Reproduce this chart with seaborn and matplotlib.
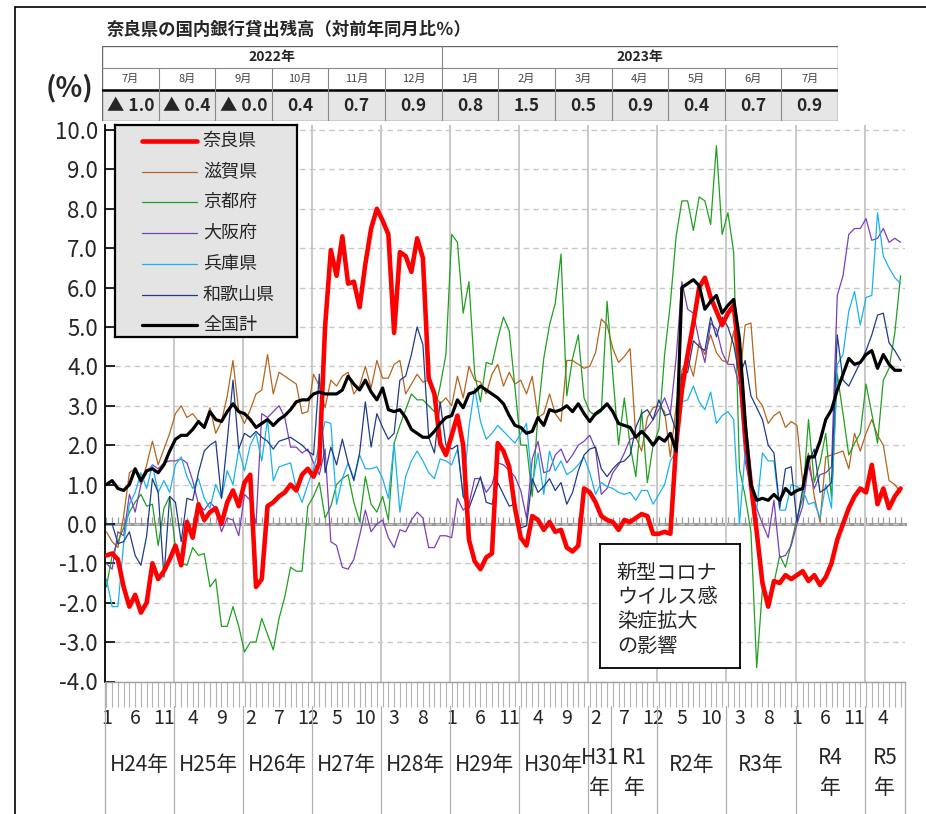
import math
import numpy as np
import pandas as pd
import matplotlib
matplotlib.use("Agg")
import matplotlib.pyplot as plt
import seaborn as sns
from matplotlib.lines import Line2D
from matplotlib.patches import Rectangle
from matplotlib.ticker import FixedLocator, NullFormatter

sns.set_theme(style="white")
plt.rcParams['font.family'] = ['Noto Sans CJK JP', 'DejaVu Sans']

# monthly y/y change (%), Jan 2012 (H24) .. Jul 2023 (R5)
nara = [
    -0.8, -0.75, -0.9, -1.6, -2.1, -1.8, -2.25, -2.0, -1.0, -1.4, -1.2, -0.9,
    -0.55, -1.05, 0.05, -0.35, 0.5, 0.1, 0.3, 0.4, 0.0, 0.55, 0.85, 0.45,
    1.05, 1.25, -1.6, -1.4, 0.45, 0.55, 0.7, 0.8, 1.0, 0.85, 1.25, 1.4,
    1.2, 1.55, 5.0, 6.95, 6.3, 7.3, 6.1, 6.15, 5.5, 6.6, 7.5, 8.0,
    7.7, 7.35, 4.85, 6.9, 6.8, 6.4, 7.25, 6.75, 3.7, 3.3, 2.05, 1.75,
    2.25, 2.75, 2.0, -0.4, -0.95, -1.15, -0.85, -0.75, 2.05, 1.85, 1.45, 0.4,
    -0.35, -0.55, 0.2, 0.1, -0.15, 0.05, -0.2, -0.15, -0.6, -0.7, -0.55, 0.9,
    0.8, 0.55, 0.2, 0.1, 0.05, -0.15, 0.1, 0.05, 0.15, 0.25, 0.2, -0.25,
    -0.25, -0.2, -0.25, 2.0, 3.4, 4.3, 5.1, 6.0, 6.25, 5.75, 5.4, 5.05,
    5.35, 5.55, 4.2, 2.3, 1.0, -0.2, -1.5, -2.1, -1.45, -1.5, -1.3, -1.4,
    -1.3, -1.2, -1.45, -1.3, -1.55, -1.35, -1.0, -0.4, 0.0, 0.4, 0.7, 0.9,
    0.8, 1.5, 0.5, 0.9, 0.4, 0.7, 0.9]
shiga = [
    -0.2, -0.45, -0.6, 0.2, 1.3, 1.4, 1.0, 1.5, 2.1, 1.5, 1.9, 2.3,
    2.8, 3.0, 2.7, 2.8, 2.6, 2.5, 2.95, 2.3, 2.6, 3.25, 4.15, 2.85,
    2.55, 2.9, 3.3, 3.4, 4.3, 3.3, 3.85, 3.75, 3.65, 3.55, 2.8, 2.85,
    3.8, 3.5, 2.95, 3.65, 3.5, 3.75, 3.85, 3.3, 3.5, 4.0, 3.45, 4.15,
    3.7, 3.7, 4.05, 4.15, 3.3, 3.55, 3.8, 3.6, 3.65, 3.3, 3.05, 3.2,
    3.0, 3.75, 3.2, 4.0, 3.65, 3.6, 3.3, 3.8, 4.05, 3.5, 3.85, 3.55,
    3.65, 3.3, 3.75, 2.7, 2.8, 3.3, 2.8, 2.6, 4.15, 4.15, 4.05, 3.95,
    4.0, 4.35, 5.2, 5.05, 4.45, 4.1, 4.25, 4.45, 2.2, 1.85, 2.7, 2.95,
    3.0, 2.85, 1.7, 3.0, 3.9, 4.2, 3.75, 4.6, 4.3, 4.8, 4.35, 4.15,
    4.1, 4.9, 3.65, 5.05, 5.1, 3.2, 3.0, 2.55, 2.75, 2.85, 2.45, 2.6,
    2.5, 1.05, 1.8, 0.7, 0.05, 1.7, 1.75, 1.8, 1.85, 1.4, 2.3, 1.85,
    2.3, 2.65, 2.25, 2.0, 1.1, 1.0, 0.8]
kyoto = [
    -1.6, -0.8, -0.45, -0.1, 0.3, 0.55, 0.75, 0.45, 0.5, -0.55, 0.4, 0.7,
    -0.6, -1.0, -1.05, -0.6, -0.8, -0.75, -1.6, -1.4, -2.6, -2.6, -2.1, -2.6,
    -3.25, -3.0, -3.0, -2.4, -2.8, -3.2, -2.4, -1.85, -1.1, -1.2, -1.2, 0.45,
    0.7, 1.05, 0.15, 0.45, 1.0, 1.15, 1.25, 0.55, 0.05, 1.2, 0.5, 0.3,
    0.7, 0.1, 2.05, 2.5, 2.9, 3.3, 3.15, 3.15, 3.0, 2.85, 3.5, 4.3,
    7.35, 7.15, 5.35, 6.15, 3.8, 3.1, 4.1, 4.05, 4.7, 5.25, 4.9, 3.45,
    2.0, 2.0, 0.7, 2.8, 4.2, 5.05, 5.6, 6.85, 3.25, 4.2, 4.8, 3.2,
    2.85, 2.75, 2.85, 5.65, 3.8, 2.0, 3.2, 2.0, 1.2, 2.9, 1.05, 2.0,
    2.4, 4.3, 5.6, 7.3, 8.2, 8.2, 7.45, 8.3, 8.2, 7.6, 9.6, 7.35,
    7.9, 6.9, 1.4, 0.7, -0.2, -3.65, -1.65, -2.1, -1.5, -0.8, -1.1, -0.5,
    0.15, 0.65, 2.65, 1.05, 1.55, 2.3, 0.65, 3.8, 2.8, 1.75, 2.05, 2.3,
    3.55, 2.8, 2.05, 3.65, 3.95, 4.85, 6.3]
osaka = [
    -1.0, -1.15, -0.2, -0.3, 0.75, 0.3, 1.0, 1.3, 1.5, 1.4, 1.55, 1.6,
    1.6, 1.65, 1.55, 1.1, 0.5, 0.35, 0.55, 0.4, -0.2, 0.15, 0.1, -0.3,
    0.75, 0.6, 0.0, 2.8, 2.7, 2.85, 3.0, 2.7, 1.95, 1.95, 1.8, 1.9,
    1.55, 1.25, 1.9, -0.45, -0.55, -1.1, -1.15, -0.9, -0.3, 0.35, -0.2, 0.0,
    0.1, -0.35, -0.6, -0.15, -0.2, 0.1, 0.3, 0.15, -0.6, -0.6, -0.3, -0.3,
    -0.35, 0.65, 0.35, 0.5, 1.15, 1.15, 0.8, 1.0, 1.55, 1.5, 1.35, 1.2,
    0.85, 0.15, 1.65, 2.1, 1.3, 1.35, 1.75, 1.9, 1.55, 1.75, 2.0, 2.1,
    2.25, 1.9, 0.75, 0.9, 1.3, 1.5, 1.8, 2.15, 2.2, 2.3, 2.45, 2.65,
    2.9, 3.2, 2.8, 4.2, 6.15, 5.45, 5.35, 4.65, 4.1, 5.1, 4.95, 4.35,
    4.05, 4.05, 3.5, 1.6, 0.9, 0.4, 0.0, -0.35, 0.6, -0.85, -0.8, -0.55,
    0.0, 0.45, 1.5, 0.9, 1.25, 1.3, 1.45, 5.8, 6.3, 7.35, 7.5, 7.5,
    7.75, 7.2, 7.25, 7.5, 7.15, 7.25, 7.15]
hyogo = [
    -1.4, -2.1, -2.1, -0.5, 0.5, 0.8, 1.3, 0.9, 1.5, 0.8, 1.1, 0.8,
    1.5, 1.7, 1.2, 0.9, 1.15, 0.65, 0.4, 1.0, 0.65, 1.35, 1.0, 1.9,
    1.35, 2.0, 2.3, 1.6, 2.65, 1.1, 1.45, 1.5, 1.55, 0.9, 0.55, 1.0,
    1.4, 2.0, 2.6, 2.55, 0.5, 1.15, 1.55, 1.15, 1.75, 1.4, 1.4, 1.45,
    1.15, 0.65, 2.05, 0.3, 1.2, 1.6, 1.85, 1.6, 1.3, 1.15, 1.65, 1.6,
    1.5, 1.9, 0.7, 2.45, 3.45, 2.6, 2.15, 2.3, 2.5, 2.35, 2.2, 2.05,
    2.3, 2.55, 1.0, 1.8, 0.75, 1.85, 1.35, 1.6, 1.25, 1.35, 1.5, 1.7,
    1.3, 0.75, 1.05, 0.95, 0.9, 0.8, 0.75, 0.8, 0.6, 0.85, 0.85, 0.5,
    0.75, 1.0, 1.6, 1.85, 3.1, 3.15, 3.5, 3.1, 2.9, 3.35, 2.55, 2.75,
    2.85, 2.65, 0.0, 1.85, 0.85, 0.35, 1.8, 1.6, 1.6, 0.35, 0.35, 1.0,
    0.95, 0.85, 0.5, 0.55, 0.15, 1.0, 0.4, 4.05, 4.3, 5.4, 5.9, 5.05,
    5.75, 5.8, 7.9, 6.8, 6.5, 6.25, 6.1]
wakayama = [
    0.0, 0.0, -0.5, -0.45, -0.2, -0.8, -1.05, -0.3, 1.15, 0.8, -1.35, 0.7,
    0.55, -0.45, 0.65, 0.6, 1.3, 1.85, 2.0, 2.1, 0.65, 2.1, 3.65, 1.9,
    2.3, 2.2, 2.35, 2.2, 2.1, 1.9, 2.1, 2.15, 2.2, 2.1, 2.0, 1.85,
    1.75, 3.8, 1.3, 1.95, 1.5, 2.15, 1.55, 1.1, 1.8, 3.1, 1.95, 2.8,
    2.45, 2.15, 2.3, 3.65, 3.75, 4.3, 5.0, 4.55, 2.2, 1.8, 3.1, 2.0,
    1.9, 2.0, 0.7, 0.4, 0.8, 1.2, 0.55, 0.5, 1.05, 0.75, 0.45, 0.5,
    -0.1, -0.05, 1.15, 0.8, 0.95, 1.15, 0.85, 1.05, 0.5, 0.8, 1.35, 1.75,
    1.9, 1.95, 1.4, 1.2, 1.4, 1.55, 1.6, 1.75, 2.45, 2.8, 2.9, 2.65,
    3.15, 2.75, 2.8, 2.35, 3.8, 3.85, 4.65, 4.5, 4.4, 5.25, 4.75, 5.25,
    5.0, 4.55, 3.75, 4.15, 3.25, 2.95, 2.65, 2.0, 1.8, 0.4, 1.4, 1.45,
    0.05, 0.9, 1.55, 1.9, 0.8, 0.9, 1.05, 4.8, 3.65, 3.5, 3.8, 4.1,
    4.4, 4.8, 5.3, 5.35, 4.6, 4.4, 4.15]
zenkoku = [
    1.0, 1.1, 0.9, 0.85, 1.0, 1.4, 1.1, 1.35, 1.4, 1.3, 1.5, 1.85,
    2.15, 2.25, 2.25, 2.4, 2.6, 2.45, 2.85, 2.65, 2.6, 2.85, 3.05, 2.85,
    2.8, 2.65, 2.45, 2.55, 2.65, 2.5, 2.65, 2.75, 2.9, 3.1, 3.15, 3.15,
    3.3, 3.35, 3.3, 3.3, 3.3, 3.4, 3.75, 3.55, 3.4, 3.65, 3.35, 3.15,
    3.45, 2.9, 2.85, 2.9, 2.7, 2.4, 2.3, 2.2, 2.2, 2.35, 2.55, 2.7,
    2.75, 3.15, 2.95, 3.3, 3.35, 3.5, 3.4, 3.3, 3.2, 3.05, 2.75, 2.5,
    2.45, 2.3, 2.35, 2.7, 2.5, 2.9, 2.85, 2.9, 3.0, 2.85, 3.05, 2.8,
    2.6, 2.8, 2.9, 3.05, 2.85, 2.55, 2.5, 2.45, 2.2, 2.35, 2.2, 2.0,
    2.2, 2.1, 2.3, 1.85, 6.0, 6.1, 6.2, 6.05, 5.45, 5.65, 5.8, 5.35,
    5.55, 5.7, 4.7, 2.6, 1.0, 0.6, 0.65, 0.6, 0.75, 0.6, 0.9, 0.75,
    0.85, 0.9, 1.7, 1.7, 2.1, 2.65, 2.9, 3.4, 3.8, 4.2, 4.05, 4.1,
    4.3, 4.4, 3.95, 4.3, 4.05, 3.9, 3.9]

series_names = ['奈良県', '滋賀県', '京都府', '大阪府', '兵庫県', '和歌山県', '全国計']
series_vals = [nara, shiga, kyoto, osaka, hyogo, wakayama, zenkoku]
series_colors = ['#FF0000', '#B5651D', '#1FA01F', '#7B3FB8', '#1AB2EE', '#1F3C88', '#000000']
series_lw = [3.3, 0.9, 0.9, 0.9, 0.9, 0.9, 2.3]

# era year blocks: label, index of first month
year_labels = ['H24年', 'H25年', 'H26年', 'H27年', 'H28年', 'H29年', 'H30年',
               'H31\n年', 'R1\n年', 'R2年', 'R3年', 'R4\n年', 'R5\n年']
year_starts = [0, 12, 24, 36, 48, 60, 72, 84, 88, 96, 108, 120, 132]

# header table (Nara, latest 13 months)
tbl_years = [('2022年', 6), ('2023年', 7)]
tbl_months = ['7月', '8月', '9月', '10月', '11月', '12月',
              '1月', '2月', '3月', '4月', '5月', '6月', '7月']
tbl_vals = [-1.0, -0.4, -0.0, 0.4, 0.7, 0.9, 0.8, 1.5, 0.5, 0.9, 0.4, 0.7, 0.9]

n = len(nara)
df = pd.DataFrame({'月': np.arange(n)})
for name, vals in zip(series_names, series_vals):
    assert len(vals) == n, name
    df[name] = vals

W, H = 926, 814
fig = plt.figure(figsize=(W / 100, H / 100), dpi=100)
fig.patch.set_facecolor('white')


def fx(px):
    return px / W


def fy(py):
    return 1 - py / H


ax_left, ax_right, ax_top, ax_bot = 105, 905, 125, 681.5
ax = fig.add_axes([fx(ax_left), fy(ax_bot), fx(ax_right - ax_left), (ax_bot - ax_top) / H])
ymin, ymax = -4.0, 10.127
xmin, xmax = -0.24, 138.77

# year boundary grid lines
bounds = [s - 0.25 for s in year_starts]
for b, lab in zip(bounds[1:], year_labels[1:]):
    if lab.startswith('R1'):
        continue
    ax.axvline(b, color='#c8c8c8', lw=1.4, zorder=0.5)

for name, col, lw in zip(series_names, series_colors, series_lw):
    z = 2
    if name == '奈良県':
        z = 3
    if name == '全国計':
        z = 3.5
    sns.lineplot(data=df, x='月', y=name, ax=ax, color=col, linewidth=lw,
                 zorder=z, errorbar=None, legend=False)

ax.set_xlim(xmin, xmax)
ax.set_ylim(ymin, ymax)
ax.set_xlabel('')
ax.set_ylabel('')

yt = np.arange(-4, 11, 1)
ax.set_yticks(yt)
ax.set_yticklabels([f'{v:.1f}' for v in yt], fontsize=16)
ax.yaxis.grid(True, linestyle=(0, (4, 3)), color='#c8c8c8', lw=1)
ax.tick_params(axis='y', left=True, direction='in', length=7, width=1.2,
               color='black', pad=5)

for s in ['top', 'right']:
    ax.spines[s].set_visible(False)
ax.spines['left'].set_color('black')
ax.spines['left'].set_linewidth(1.3)
ax.spines['bottom'].set_color('#a0a0a0')
ax.spines['bottom'].set_linewidth(1.0)

# month ticks and numbers under the plot
ax.set_xticks(range(0, n, 5))
ax.set_xticklabels([str(k % 12 + 1) for k in range(0, n, 5)], fontsize=14)
ax.set_xticks(range(n), minor=True)
ax.tick_params(axis='x', which='both', bottom=True, direction='out', length=18,
               width=0.8, color='#b4b4b4', pad=1)

# zero line with small monthly ticks
zero_frac = (0 - ymin) / (ymax - ymin)
secax = ax.secondary_xaxis(zero_frac)
secax.xaxis.set_major_locator(FixedLocator(list(range(n))))
secax.xaxis.set_major_formatter(NullFormatter())
secax.tick_params(which='major', bottom=True, top=False, direction='in', length=5,
                  width=0.9, color='#9a9a9a')
for sp in secax.spines.values():
    sp.set_color('#9a9a9a')
    sp.set_linewidth(2.2)

# year labels and separators
tr = ax.get_xaxis_transform()
ah = ax_bot - ax_top


def ay(py):
    return (ax_bot - py) / ah


ends = bounds[1:] + [xmax]
for lab, b0, b1 in zip(year_labels, bounds, ends):
    c = (max(b0, xmin) + b1) / 2
    if '\n' in lab:
        ax.text(c, ay(773), lab, transform=tr, ha='center', va='center',
                fontsize=15, linespacing=1.45, clip_on=False)
    else:
        ax.text(c, ay(765), lab, transform=tr, ha='center', va='center',
                fontsize=15, clip_on=False)
for b in bounds[1:]:
    ax.plot([b, b], [ay(706), ay(814)], transform=tr, color='#b0b0b0', lw=0.9, clip_on=False)
ax.plot([xmin, xmin], [0, ay(814)], transform=tr, color='#b0b0b0', lw=1.0, clip_on=False)
ax.plot([xmax, xmax], [0, ay(814)], transform=tr, color='#b0b0b0', lw=1.0, clip_on=False)

# legend box
lax = fig.add_axes([fx(115), fy(337), fx(182), 212 / H])
lax.set_xlim(0, 182)
lax.set_ylim(212, 0)
lax.set_facecolor('#e4e4e4')
lax.set_xticks([])
lax.set_yticks([])
for sp in lax.spines.values():
    sp.set_color('black')
    sp.set_linewidth(1.6)
for k, (name, col, lw) in enumerate(zip(series_names, series_colors, series_lw)):
    yy = 16 + k * 30.7
    lax.add_line(Line2D([27, 82], [yy, yy], color=col, lw=lw))
    lax.text(88, yy, name, fontsize=13, va='center', ha='left')

# annotation box
bax = fig.add_axes([fx(600), fy(668), fx(140), 124 / H])
bax.set_facecolor('white')
bax.set_xticks([])
bax.set_yticks([])
for sp in bax.spines.values():
    sp.set_color('black')
    sp.set_linewidth(1.3)
bax.text(0.12, 0.47, '新型コロナ\nウイルス感\n染症拡大\nの影響', transform=bax.transAxes,
         fontsize=14.5, va='center', ha='left', linespacing=1.2)

# header table
tx0, tx1, ty0, ty1 = 102, 838, 46, 121
tax = fig.add_axes([fx(tx0), fy(ty1), fx(tx1 - tx0), (ty1 - ty0) / H])
ncol = len(tbl_months)
tax.set_xlim(0, ncol)
tax.set_ylim(75, 0)
tax.axis('off')
tax.add_patch(Rectangle((0, 44), ncol, 31, facecolor='#e6e6e6', edgecolor='none'))
tax.add_patch(Rectangle((0, 0), ncol, 75, facecolor='none', edgecolor='#666666', lw=1.0))
tax.plot([0, ncol], [22, 22], color='#888888', lw=0.8)
tax.plot([0, ncol], [44, 44], color='black', lw=1.8)
for k in range(1, ncol):
    tax.plot([k, k], [22, 75], color='#888888', lw=0.8)
pos = 0
for ylab, span in tbl_years:
    tax.text(pos + span / 2, 11, ylab, ha='center', va='center', fontsize=10, fontweight='bold')
    pos += span
    if pos < ncol:
        tax.plot([pos, pos], [0, 22], color='#888888', lw=0.8)
for k, (m, v) in enumerate(zip(tbl_months, tbl_vals)):
    tax.text(k + 0.5, 33, m, ha='center', va='center', fontsize=8, color='#444444')
    s = f'{abs(v):.1f}'
    if math.copysign(1, v) < 0:
        s = '▲ ' + s
    tax.text(k + 0.5, 60, s, ha='center', va='center', fontsize=12.5, fontweight='bold')

# titles
fig.text(fx(107), fy(30), '奈良県の国内銀行貸出残高（対前年同月比％）', fontsize=12.5,
         fontweight='bold', va='center', ha='left')
fig.text(fx(70), fy(88), '(%)', fontsize=20, fontweight='bold', va='center', ha='center')

# outer frame
fig.add_artist(Line2D([fx(15), 1], [fy(7), fy(7)], color='black', lw=1.2, transform=fig.transFigure))
fig.add_artist(Line2D([fx(15), fx(15)], [0, fy(7)], color='black', lw=1.2, transform=fig.transFigure))

fig.savefig('out.png', dpi=100)
